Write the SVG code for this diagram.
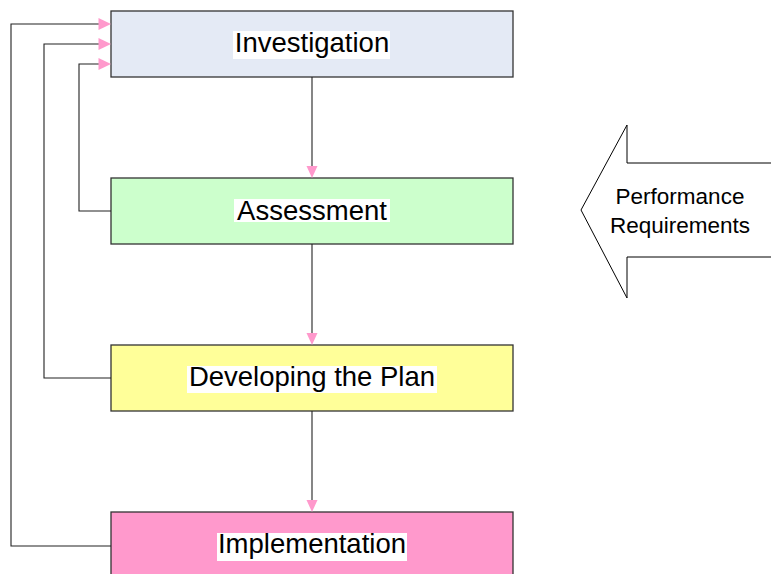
<svg xmlns="http://www.w3.org/2000/svg" width="771" height="574" viewBox="0 0 771 574">
<style>
.box{stroke:#333;stroke-width:1.3}
.lbl{font-family:"Liberation Sans",Arial,sans-serif;font-size:27.5px;fill:#000;text-anchor:middle}
.hl{fill:#fff}
.con{fill:none;stroke:#222;stroke-width:1.1}
.ah{fill:#ff99cc}
.side{font-family:"Liberation Sans",Arial,sans-serif;font-size:22.5px;fill:#000;text-anchor:middle}
</style>
<rect width="771" height="574" fill="#fff"/>
<g id="investigation">
<rect class="box" x="111" y="11" width="402" height="66" fill="#e4eaf5"/>
<rect class="hl" x="233" y="31" width="157" height="28"/>
<text class="lbl" x="312" y="52">Investigation</text>
</g>
<g id="assessment">
<rect class="box" x="111" y="178" width="402" height="66" fill="#ccffcc"/>
<rect class="hl" x="234" y="199" width="156" height="23"/>
<text class="lbl" x="312" y="220">Assessment</text>
</g>
<g id="developing">
<rect class="box" x="111" y="345" width="402" height="66" fill="#ffff99"/>
<rect class="hl" x="187" y="366" width="250" height="27"/>
<text class="lbl" x="312" y="386">Developing the Plan</text>
</g>
<g id="implementation">
<rect class="box" x="111" y="512" width="402" height="70" fill="#ff99cc"/>
<rect class="hl" x="217" y="533" width="190" height="28"/>
<text class="lbl" x="312" y="553">Implementation</text>
</g>
<g id="performance">
<path d="M771,163 H627 V125 L581,210 L627,298 V257 H771" fill="#fff" stroke="#000" stroke-width="1"/>
<text class="side" x="680" y="204">Performance</text>
<text class="side" x="680" y="233">Requirements</text>
</g>
<g id="connectors">
<path class="con" d="M312,77 V167"/>
<polygon class="ah" points="306.5,166 317.5,166 312,178"/>
<path class="con" d="M312,244 V334"/>
<polygon class="ah" points="306.5,333 317.5,333 312,345"/>
<path class="con" d="M312,411 V501"/>
<polygon class="ah" points="306.5,500 317.5,500 312,512"/>
<path class="con" d="M111,211 H79 V64 H100"/>
<polygon class="ah" points="98.5,58 98.5,70 111,64"/>
<path class="con" d="M111,378 H44 V44 H100"/>
<polygon class="ah" points="98.5,38 98.5,50 111,44"/>
<path class="con" d="M111,546 H11 V24 H100"/>
<polygon class="ah" points="98.5,18 98.5,30 111,24"/>
</g>
</svg>
